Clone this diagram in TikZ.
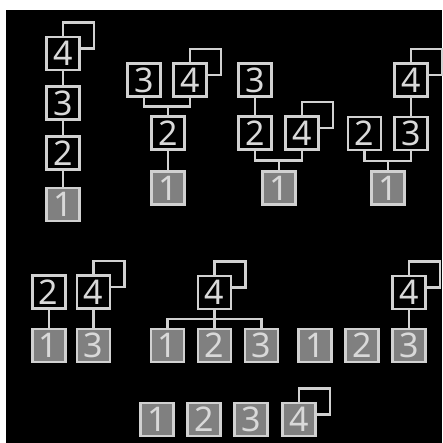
\documentclass[tikz,border=0pt]{standalone}
\usepackage{fontspec}
\newfontfamily\digitfont{Noto Sans}
\usetikzlibrary{calc}
\colorlet{edgecol}{black!18}
\colorlet{txtcol}{black!15}
\colorlet{donecol}{black!50}
\pgfdeclarelayer{bg}
\pgfdeclarelayer{shade}
\pgfsetlayers{bg,shade,main}
\tikzset{
    box/.style={draw=edgecol, line width=2.6pt, fill=black, text=txtcol,
        minimum size=33pt, inner sep=0pt, font=\digitfont\fontsize{34}{34}\selectfont},
    done/.style={box, fill=donecol},
    link/.style={draw=edgecol, line width=2.4pt},
    ghost/.style={draw=edgecol, line width=2.6pt, fill=black}
}
% second square behind the top box
\newcommand\backsquare[1]{%
    \begin{pgfonlayer}{shade}
        \draw[ghost] ([shift={(0,-31)}]#1.center) rectangle ([shift={(31,-5)}]#1.center);
    \end{pgfonlayer}}
% parent #1 with two children #2 (left) and #3 (right)
\newcommand\joinup[3]{%
    \coordinate (tmp) at ($(#1.north)!.5!(#2.south)$);
    \draw[link] (#2.south) |- (#3.south |- tmp) -- (#3.south);
    \draw[link] (#1.north) -- (#1.north |- tmp);}

\begin{document}
\begin{tikzpicture}[x=1pt, y=-1pt]
    \useasboundingbox (0,0) rectangle (442,443);
    \begin{pgfonlayer}{bg}
        \fill[white] (0,0) rectangle (442,443);
        \fill[black] (6,10) rectangle (442,443);
    \end{pgfonlayer}

    % column 4-3-2-1
    \node[box]  (a4) at (63, 53.5) {4};
    \node[box]  (a3) at (63, 103) {3};
    \node[box]  (a2) at (63, 153) {2};
    \node[done] (a1) at (63, 204.5) {1};
    \backsquare{a4}
    \draw[link] (a4) -- (a3) (a3) -- (a2) (a2) -- (a1);

    % 3 and 4 on 2
    \node[box]  (b3) at (144, 80) {3};
    \node[box]  (b4) at (190, 80) {4};
    \node[box]  (b2) at (168, 133) {2};
    \node[done] (b1) at (168, 188) {1};
    \backsquare{b4}
    \joinup{b2}{b3}{b4}
    \draw[link] (b2) -- (b1);

    % 2 and 4 on 1
    \node[box]  (c3) at (255, 80) {3};
    \node[box]  (c2) at (255, 133) {2};
    \node[box]  (c4) at (302, 133) {4};
    \node[done] (c1) at (279, 188) {1};
    \backsquare{c4}
    \draw[link] (c3) -- (c2);
    \joinup{c1}{c2}{c4}

    % 2 and 3 on 1
    \node[box]  (d4) at (411, 80) {4};
    \node[box]  (d2) at (364.5, 133.5) {2};
    \node[box]  (d3) at (411, 133.5) {3};
    \node[done] (d1) at (388, 188) {1};
    \backsquare{d4}
    \draw[link] (d4) -- (d3);
    \joinup{d1}{d2}{d3}

    % two pairs
    \node[box]  (e2) at (48.7, 292) {2};
    \node[box]  (e4) at (93.5, 292) {4};
    \node[done] (e1) at (48.7, 345.5) {1};
    \node[done] (e3) at (93.5, 345.5) {3};
    \backsquare{e4}
    \draw[link] (e2) -- (e1) (e4) -- (e3);

    % 4 over 1, 2, 3
    \node[box]  (f4) at (214.5, 292.5) {4};
    \foreach \k/\x in {1/167.5, 2/214.5, 3/261.5}
        \node[done] (f\k) at (\x, 345.5) {\k};
    \backsquare{f4}
    \coordinate (fbus) at ($(f4.south)!.5!(f2.north)$);
    \draw[link] (f1.north) |- (f3.north |- fbus) -- (f3.north);
    \draw[link] (f4.south) -- (f2.north);

    % 4 over 3
    \foreach \k/\x in {1/315, 2/362, 3/409}
        \node[done] (g\k) at (\x, 345.5) {\k};
    \node[box]  (g4) at (409, 292.5) {4};
    \backsquare{g4}
    \draw[link] (g4) -- (g3);

    % all done
    \foreach \k/\x in {1/157, 2/204, 3/251, 4/299}
        \node[done] (h\k) at (\x, 419.5) {\k};
    \backsquare{h4}
\end{tikzpicture}
\end{document}
